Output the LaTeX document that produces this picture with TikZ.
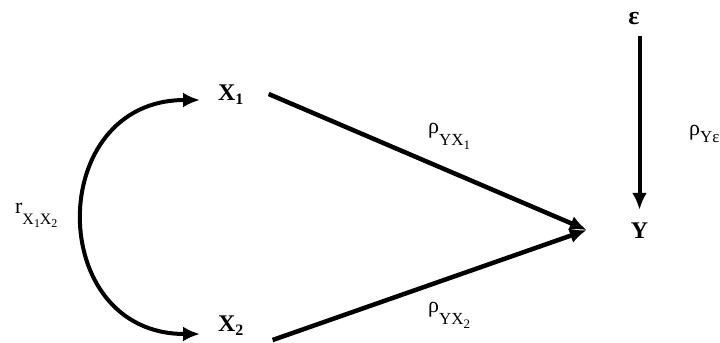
\documentclass[tikz,border=0pt]{standalone}
\usepackage{fontspec}
\setmainfont{Liberation Serif}
\usepackage{tikz}
\usetikzlibrary{arrows.meta,positioning}

% coefficient labels
\newcommand{\rholbl}[3]{{\fontsize{22}{22}\selectfont ρ}\raisebox{-#3}{\fontsize{17}{17}\selectfont #1\raisebox{-4bp}{\fontsize{13}{13}\selectfont #2}}}
\newcommand{\varlbl}[2]{{\bfseries\fontsize{24}{24}\selectfont #1\raisebox{-4bp}{\fontsize{16}{16}\selectfont #2}}}

\begin{document}
\begin{tikzpicture}[
        x=1bp, y=-1bp,
        every node/.style={inner sep=2bp},
        endo/.style={fill=white, minimum width=95bp, minimum height=64bp, text height=16bp, text depth=24bp},
        path_arr/.style={-{Latex[length=17bp,width=15bp]}, line width=4.5bp},
        corr_arr/.style={{Latex[length=17bp,width=15bp]}-{Latex[length=17bp,width=15bp]}, line width=4bp}
    ]
    \useasboundingbox (0,0) rectangle (720,342);
    \clip (0,0) rectangle (720,342);

    % variables
    \node[anchor=base west] (x1) at (216,100) {\varlbl{X}{1}};
    \node[anchor=base west] (x2) at (216,331) {\varlbl{X}{2}};
    \node[endo] (y) at (639.5,242) {\varlbl{Y}{}};
    \node[font=\bfseries\fontsize{26}{26}\selectfont] (eps) at (634,19) {ε};
    \coordinate (meet) at ([shift={(-5,-12)}]y.west);

    % paths
    \draw[path_arr] ([shift={(23,-6)}]x1.base east) -- (meet);
    \draw[path_arr] ([shift={(27,9)}]x2.base east) -- (meet);
    \draw[path_arr, line width=4bp, shorten <=9bp] (y.north |- eps.south) -- (y.north);
    \draw[corr_arr] ([shift={(-16,0)}]x1.base west) to[out=180, in=180, looseness=1.7] ([shift={(-16,3)}]x2.base west);

    % coefficients
    \node[anchor=base west] (p1) at (426,133) {\rholbl{YX}{1}{12bp}};
    \node[anchor=base west] (p2) at (426,312) {\rholbl{YX}{2}{12bp}};
    \node[anchor=base west, inner sep=0pt] (pe) at (689,135) {\rholbl{Yε}{}{7bp}};
    \node[anchor=base west] (r12) at (13,213) {{\fontsize{22}{22}\selectfont r}\raisebox{-11bp}{\fontsize{16}{16}\selectfont X\raisebox{-3bp}{\fontsize{12}{12}\selectfont 1}X\raisebox{-3bp}{\fontsize{12}{12}\selectfont 2}}};
\end{tikzpicture}
\end{document}
